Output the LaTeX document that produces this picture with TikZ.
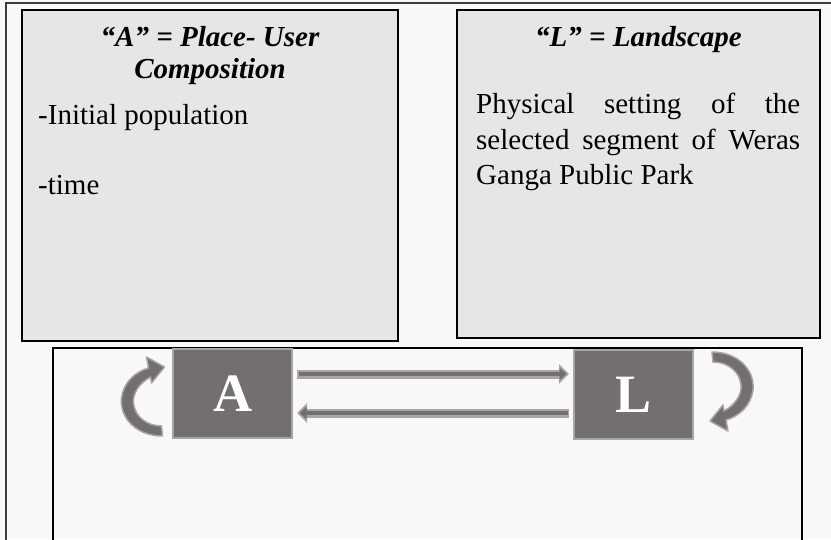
\documentclass[tikz,border=0pt]{standalone}
\usepackage{fontspec}
\setmainfont{Liberation Serif}
\usetikzlibrary{arrows.meta,calc}
\definecolor{bgc}{RGB}{248,248,248}
\definecolor{boxc}{RGB}{230,230,230}
\definecolor{tiled}{RGB}{115,111,110}
\definecolor{tilel}{RGB}{168,165,164}
\definecolor{framec}{RGB}{60,60,60}
\tikzset{
  infobox/.style={draw=black, line width=1.3pt, fill=boxc, inner sep=0pt},
  tile/.style={draw=tilel, line width=2pt, fill=tiled, text=white, minimum width=119pt, minimum height=89pt, inner sep=0pt, font=\fontsize{54}{54}\selectfont\bfseries},
  headtxt/.style={anchor=base, inner sep=0pt, font=\fontsize{29}{38}\selectfont\bfseries\itshape},
  bodytxt/.style={anchor=base west, inner sep=0pt, font=\fontsize{29}{38}\selectfont},
  arrowout/.style={line width=9pt, color=tilel, -{Triangle[length=10pt,width=19pt]}},
  arrowin/.style={line width=4.5pt, color=tiled, -{Triangle[length=7pt,width=12pt]}, shorten >=2.5pt, shorten <=1.5pt},
  loopshape/.style={fill=tiled, draw=tilel, line width=1.5pt, line join=round}
}
\newcommand{\loopfig}{%
  (78.5,-42.5) .. controls (104.5,-42.5) and (121.5,-24.5) .. (119.5,-4.5)
  .. controls (117.5,10.5) and (106.5,21.5) .. (92.5,25.5)
  -- (94.5,36.5) -- (76.5,26.5) -- (89.5,10.5) -- (90.5,16.5)
  .. controls (101.5,10.5) and (108.5,0.5) .. (107.5,-9.5)
  .. controls (106.5,-22.5) and (94.5,-32.5) .. (79.5,-32.5) -- cycle}
\begin{document}
\begin{tikzpicture}[x=1pt,y=-1pt]
\fill[bgc] (0,0) rectangle (831,539);
\useasboundingbox (0,0) rectangle (831,539);
% outer frame
\draw[framec, line width=1.4pt] (6,545) -- (6,3) -- (840,3);
% top boxes
\node[infobox, minimum width=376pt, minimum height=331pt] (boxA) at (210,175.5) {};
\node[infobox, minimum width=363pt, minimum height=328pt] (boxL) at (638.5,174) {};
\node[headtxt] (hA1) at (210,46) {“A” = Place- User};
\node[headtxt] (hA2) at (210,78) {Composition};
\node[bodytxt] (bA1) at (38,124) {-Initial population};
\node[bodytxt] (bA2) at (38,194) {-time};
\node[headtxt] (hL) at (638.5,46) {“L” = Landscape};
\node[bodytxt] (bL1) at (476,113) {\makebox[324pt][s]{Physical setting of the}};
\node[bodytxt] (bL2) at (476,149) {\makebox[324pt][s]{selected segment of Weras}};
\node[bodytxt] (bL3) at (476,184) {Ganga Public Park};
% bottom frame
\draw[black, line width=2.5pt] (53,545) -- (53,348) -- (802,348) -- (802,545);
% tiles
\node[tile] (A) at (232.5,393.5) {A};
\node[tile] (L) at (633.5,394.5) {L};
% straight arrows
\coordinate (t1) at ($(A.east)+(4,-19.5)$);
\coordinate (t2) at ($(L.west)+(-4,18.5)$);
\draw[arrowout, shorten >=4pt] (t1) -- (t1 -| L.west);
\draw[arrowin, shorten >=6.5pt] (t1) -- (t1 -| L.west);
\draw[arrowout, shorten >=4pt] (t2) -- (t2 -| A.east);
\draw[arrowin, shorten >=6.5pt] (t2) -- (t2 -| A.east);
% loop arrows
\begin{scope}[shift={(L.center)}]
  \draw[loopshape] \loopfig;
\end{scope}
\begin{scope}[shift={($(A.center)+(8.5,0)$)}, rotate=180]
  \draw[loopshape] \loopfig;
\end{scope}
\end{tikzpicture}
\end{document}
